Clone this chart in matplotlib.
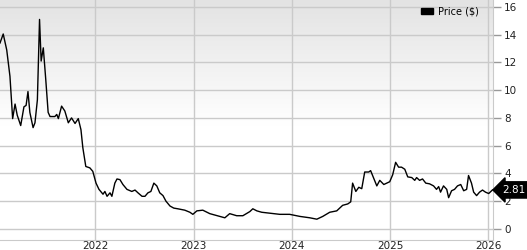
import numpy as np
import pandas as pd
import matplotlib
matplotlib.use('Agg')
import matplotlib.pyplot as plt
import matplotlib.dates as mdates
from matplotlib.colors import LinearSegmentedColormap
from matplotlib.patches import Patch

dates = [
  '2021-01-11', '2021-01-23', '2021-02-05', '2021-02-17', '2021-02-27', '2021-03-08',
  '2021-03-16', '2021-03-29', '2021-04-10', '2021-04-18', '2021-04-25', '2021-05-02',
  '2021-05-14', '2021-05-21', '2021-05-30', '2021-06-07', '2021-06-13', '2021-06-21',
  '2021-06-30', '2021-07-09', '2021-07-16', '2021-08-03', '2021-08-10', '2021-08-16',
  '2021-08-28', '2021-09-09', '2021-09-22', '2021-10-04', '2021-10-17', '2021-10-29',
  '2021-11-08', '2021-11-15', '2021-11-26', '2021-12-11', '2021-12-22', '2022-01-03',
  '2022-01-14', '2022-01-29', '2022-02-05', '2022-02-13', '2022-02-24', '2022-03-03',
  '2022-03-14', '2022-03-22', '2022-04-02', '2022-04-13', '2022-04-28', '2022-05-16',
  '2022-05-28', '2022-06-08', '2022-06-23', '2022-07-04', '2022-07-15', '2022-07-26',
  '2022-08-06', '2022-08-17', '2022-08-28', '2022-09-09', '2022-09-20', '2022-10-05',
  '2022-10-19', '2022-11-03', '2022-11-29', '2022-12-18', '2022-12-29', '2023-01-13',
  '2023-02-04', '2023-03-02', '2023-04-08', '2023-04-27', '2023-05-15', '2023-06-10',
  '2023-07-03', '2023-07-29', '2023-08-09', '2023-08-24', '2023-09-11', '2023-10-04',
  '2023-10-30', '2023-11-17', '2023-12-24', '2024-01-31', '2024-03-08', '2024-04-03',
  '2024-04-25', '2024-05-21', '2024-06-16', '2024-07-08', '2024-07-27', '2024-08-07',
  '2024-08-14', '2024-08-26', '2024-09-06', '2024-09-17', '2024-09-28', '2024-10-13',
  '2024-10-20', '2024-11-12', '2024-11-23', '2024-12-08', '2024-12-19', '2024-12-30',
  '2025-01-10', '2025-01-21', '2025-02-01', '2025-02-12', '2025-02-24', '2025-03-07',
  '2025-03-22', '2025-04-02', '2025-04-09', '2025-04-20', '2025-05-01', '2025-05-13',
  '2025-05-27', '2025-06-11', '2025-06-22', '2025-06-30', '2025-07-07', '2025-07-18',
  '2025-07-30', '2025-08-06', '2025-08-17', '2025-08-28', '2025-09-08', '2025-09-20',
  '2025-10-01', '2025-10-12', '2025-10-19', '2025-10-30', '2025-11-07', '2025-11-18',
  '2025-11-29', '2025-12-10', '2025-12-21', '2026-01-02', '2026-01-16',
]
prices = [
  13.4, 14.05, 12.9, 11.0, 7.95, 9.0,
  8.2, 7.45, 8.8, 8.9, 9.9, 8.4,
  7.3, 7.65, 9.3, 15.1, 12.1, 13.05,
  10.8, 8.4, 8.1, 8.1, 8.25, 7.95,
  8.85, 8.5, 7.65, 8.0, 7.6, 7.95,
  7.15, 5.85, 4.5, 4.4, 4.15, 3.3,
  2.85, 2.5, 2.7, 2.35, 2.6, 2.35,
  3.3, 3.6, 3.55, 3.2, 2.85, 2.7,
  2.8, 2.6, 2.35, 2.35, 2.6, 2.7,
  3.3, 3.1, 2.6, 2.4, 2.0, 1.65,
  1.5, 1.45, 1.35, 1.2, 1.05, 1.3,
  1.35, 1.1, 0.9, 0.8, 1.1, 0.95,
  0.95, 1.25, 1.45, 1.3, 1.2, 1.15,
  1.1, 1.05, 1.05, 0.9, 0.8, 0.7,
  0.9, 1.2, 1.3, 1.7, 1.8, 1.95,
  3.3, 2.7, 3.0, 2.9, 4.1, 4.1,
  4.2, 3.1, 3.5, 3.2, 3.3, 3.4,
  3.9, 4.8, 4.45, 4.45, 4.3, 3.75,
  3.7, 3.5, 3.7, 3.5, 3.6, 3.3,
  3.25, 3.1, 2.85, 3.05, 2.65, 3.1,
  2.85, 2.25, 2.75, 2.85, 3.1, 3.2,
  2.75, 2.85, 3.85, 3.3, 2.65, 2.4,
  2.65, 2.8, 2.65, 2.55, 2.81,
]
last_label = '2.81'
yticks = [0, 2, 4, 6, 8, 10, 12, 14, 16]
years = ['2022', '2023', '2024', '2025', '2026']

def main():
  x = pd.to_datetime(dates)

  fig = plt.figure(figsize=(5.27, 2.5), dpi=100)
  ax = fig.add_axes([0.0, 0.04, 493 / 527, 0.96])

  # grey at the top fading to white by the middle
  grad = np.clip(np.linspace(0, 1, 256) * 1.9, 0, 1).reshape(-1, 1)
  bg = LinearSegmentedColormap.from_list('bg', ['#e3e3e3', '#ffffff'])
  ax.imshow(grad, extent=[0, 1, 0, 1], transform=ax.transAxes, aspect='auto',
            cmap=bg, vmin=0, vmax=1, origin='upper', zorder=0)

  ax.plot(x, prices, color='black', lw=1.0, zorder=3)

  ax.set_ylim(-0.8, 16.5)
  ax.set_xlim(pd.Timestamp('2021-01-11'), pd.Timestamp('2026-01-18'))

  ax.set_yticks(yticks)
  ax.yaxis.tick_right()
  ax.set_xticks(pd.to_datetime([y + '-01-01' for y in years]))
  ax.xaxis.set_major_formatter(mdates.DateFormatter('%Y'))
  ax.grid(True, color='#cacaca', lw=1.0, zorder=1)
  ax.set_axisbelow(True)
  ax.tick_params(axis='y', colors='#999999', length=6, width=1, labelcolor='#222222',
                 labelsize=7.5, pad=2)
  ax.tick_params(axis='x', length=0, labelcolor='#222222', labelsize=7.5, pad=1)
  for s in ['left', 'top']:
    ax.spines[s].set_visible(False)
  for s in ['right', 'bottom']:
    ax.spines[s].set_color('#cacaca')

  ax.text(1.018, prices[-1], last_label, transform=ax.get_yaxis_transform(),
          color='white', fontsize=7.5, va='center', ha='left', zorder=5,
          bbox=dict(boxstyle='larrow,pad=0.3', fc='black', ec='black'), clip_on=False)

  ax.legend(handles=[Patch(color='black', label='Price ($)')], loc='upper right',
            frameon=False, fontsize=7, handlelength=1.2, handleheight=0.6,
            handletextpad=0.5, borderaxespad=0.3, bbox_to_anchor=(0.985, 1.0))

  fig.savefig('out.png', dpi=100)
  plt.close(fig)


if __name__ == '__main__':
  main()
